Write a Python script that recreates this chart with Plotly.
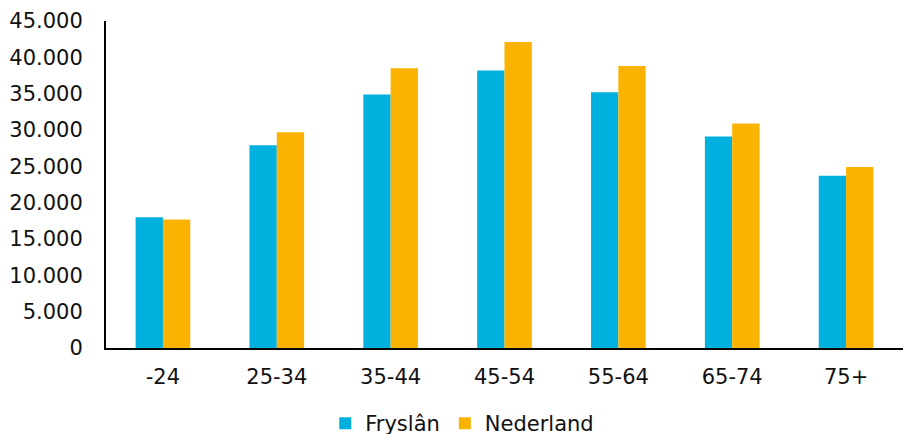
import plotly.graph_objects as go

categories = ["-24", "25-34", "35-44", "45-54", "55-64", "65-74", "75+"]
fryslan = [18000, 27900, 34900, 38200, 35200, 29100, 23700]
nederland = [17700, 29700, 38500, 42100, 38800, 30900, 24900]
y_ticks = [0, 5000, 10000, 15000, 20000, 25000, 30000, 35000, 40000, 45000]

font = "DejaVu Sans"

fig = go.Figure()
fig.add_trace(go.Bar(x=categories, y=fryslan, name="Fryslân",
                     marker=dict(color="#00B0DF", line=dict(width=0))))
fig.add_trace(go.Bar(x=categories, y=nederland, name="Nederland",
                     marker=dict(color="#F9B300", line=dict(width=0))))

fig.update_layout(
    width=903, height=444,
    margin=dict(l=106, r=0, t=21, b=90),
    paper_bgcolor="white", plot_bgcolor="white",
    barmode="group", bargap=0.52, bargroupgap=0,
    separators=",.",
    font=dict(family=font, size=21, color="#111111"),
    showlegend=True,
    legend=dict(orientation="h", x=0.447, xanchor="center", y=-0.232, yanchor="middle",
                font=dict(family=font, size=21), itemwidth=30, traceorder="normal"),
    xaxis=dict(showline=True, linecolor="black", linewidth=2,
               ticks="outside", ticklen=9, tickcolor="rgba(0,0,0,0)",
               showgrid=False, automargin=False, tickfont=dict(size=21)),
    yaxis=dict(range=[0, 45000], tickvals=y_ticks, tickformat=",d",
               showline=True, linecolor="black", linewidth=2,
               ticks="outside", ticklen=17, tickcolor="rgba(0,0,0,0)",
               showgrid=False, zeroline=False, automargin=False,
               tickfont=dict(size=21)),
)

fig.write_html("out.html", config={"displayModeBar": False},
               post_script="document.body.style.margin='0';"
                           "document.documentElement.style.overflow='hidden';"
                           "document.body.style.overflow='hidden';")
